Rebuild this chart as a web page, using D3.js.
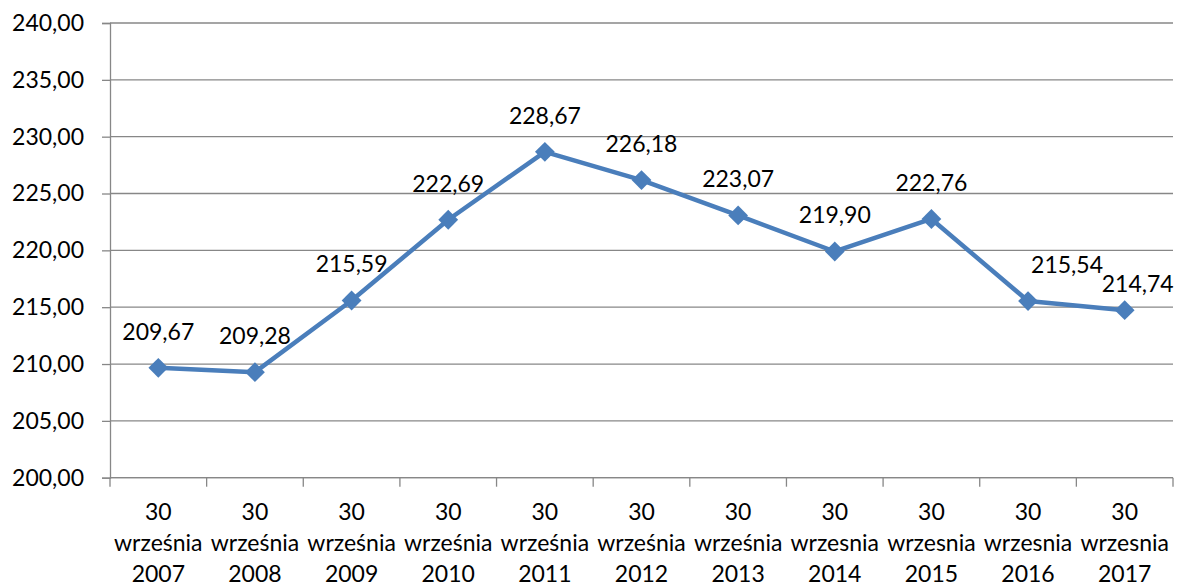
<!DOCTYPE html>
<html>
<head>
<meta charset="utf-8">
<script src="https://cdn.jsdelivr.net/npm/d3@7"></script>
<style>
  html, body { margin: 0; padding: 0; background: #fff; }
  svg { display: block; font-family: Lato, "Open Sans", sans-serif; }
</style>
</head>
<body>
<svg id="chart" width="1179" height="588"></svg>
<script>
// Category labels: day, month, year (three lines under each tick)
const days = ["30","30","30","30","30","30","30","30","30","30","30"];
const months = ["września","września","września","września","września","września","września","wrzesnia","wrzesnia","wrzesnia","wrzesnia"];
const years = ["2007","2008","2009","2010","2011","2012","2013","2014","2015","2016","2017"];
const values = [209.67, 209.28, 215.59, 222.69, 228.67, 226.18, 223.07, 219.90, 222.76, 215.54, 214.74];
const yTicks = [200, 205, 210, 215, 220, 225, 230, 235, 240];

const svg = d3.select("#chart");
const plotLeft = 110, plotRight = 1173, plotTop = 23, plotBottom = 477.7;
const fontSize = 23;
const lineColor = "#4A7EBB";
const gridColor = "#878787";

const x = d3.scaleBand().domain(years).range([plotLeft, plotRight]).padding(0);
const y = d3.scaleLinear().domain([200, 240]).range([plotBottom, plotTop]);
const fmt = v => v.toFixed(2).replace(".", ",");

// horizontal gridlines
svg.append("g")
  .selectAll("line")
  .data(yTicks)
  .join("line")
  .attr("x1", plotLeft).attr("x2", plotRight)
  .attr("y1", d => y(d)).attr("y2", d => y(d))
  .attr("stroke", gridColor).attr("stroke-width", 1.3);

// y axis
const yAxis = svg.append("g")
  .attr("transform", `translate(${plotLeft},0)`)
  .call(d3.axisLeft(y).tickValues(yTicks).tickSize(8).tickPadding(18).tickFormat(fmt));
yAxis.select(".domain").attr("stroke", gridColor).attr("stroke-width", 1.3);
yAxis.selectAll(".tick line").attr("stroke", gridColor).attr("stroke-width", 1.3);
yAxis.selectAll("text")
  .attr("font-family", "Lato, 'Open Sans', sans-serif")
  .attr("font-size", fontSize).attr("fill", "#000");

// x axis: ticks sit on the category boundaries
const boundaries = years.map(d => x(d)).concat([plotRight]);
const xAxis = svg.append("g");
xAxis.append("line")
  .attr("x1", plotLeft).attr("x2", plotRight)
  .attr("y1", plotBottom).attr("y2", plotBottom)
  .attr("stroke", gridColor).attr("stroke-width", 1.3);
xAxis.selectAll("line.tk")
  .data(boundaries)
  .join("line").attr("class", "tk")
  .attr("x1", d => d).attr("x2", d => d)
  .attr("y1", plotBottom).attr("y2", plotBottom + 9)
  .attr("stroke", gridColor).attr("stroke-width", 1.3);

const catLabels = xAxis.selectAll("text")
  .data(years)
  .join("text")
  .attr("text-anchor", "middle")
  .attr("font-size", fontSize)
  .attr("fill", "#000");
catLabels.each(function(d, i) {
  const t = d3.select(this);
  const cx = x(d) + x.bandwidth() / 2;
  [days[i], months[i], years[i]].forEach((s, k) => {
    t.append("tspan").attr("x", cx).attr("y", 520 + k * 31).text(s);
  });
});

// series line
const pts = values.map((v, i) => ({ k: years[i], v }));
svg.append("path")
  .datum(pts)
  .attr("fill", "none")
  .attr("stroke", lineColor)
  .attr("stroke-width", 4.5)
  .attr("stroke-linejoin", "round")
  .attr("d", d3.line().x(d => x(d.k) + x.bandwidth() / 2).y(d => y(d.v)));

// diamond markers
svg.append("g")
  .selectAll("rect")
  .data(pts)
  .join("rect")
  .attr("x", -7).attr("y", -7).attr("width", 14).attr("height", 14)
  .attr("fill", lineColor)
  .attr("transform", d => `translate(${x(d.k) + x.bandwidth() / 2},${y(d.v)}) rotate(45)`);

// value labels above points; the last two are nudged to avoid overlap
const nudge = { "2016": [39, 0], "2017": [13, 10] };
svg.append("g")
  .selectAll("text")
  .data(pts)
  .join("text")
  .attr("text-anchor", "middle")
  .attr("font-size", fontSize)
  .attr("fill", "#000")
  .attr("x", d => x(d.k) + x.bandwidth() / 2 + (nudge[d.k] ? nudge[d.k][0] : 0))
  .attr("y", d => y(d.v) - 28 + (nudge[d.k] ? nudge[d.k][1] : 0))
  .text(d => fmt(d.v));
</script>
</body>
</html>
